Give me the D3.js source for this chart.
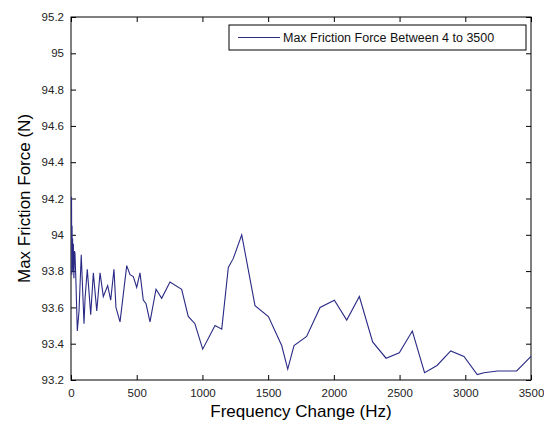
<!DOCTYPE html>
<html>
<head>
<meta charset="utf-8">
<script src="https://cdn.jsdelivr.net/npm/d3@7"></script>
<style>
  body { margin: 0; background: #fff; }
  svg { font-family: Arial, "Liberation Sans", sans-serif; }
</style>
</head>
<body>
<div id="chart"></div>
<script>
// frequency (Hz) and max friction force (N)
var freq = [4, 6, 8, 10, 12, 15, 18, 22, 26, 30, 38, 48, 61, 78, 99, 107, 124, 150, 170, 196,
  221, 246, 279, 302, 327, 342, 373, 424, 449, 474, 500, 525, 550, 571, 601, 647, 690, 753,
  842, 892, 943, 1002, 1096, 1147, 1197, 1235, 1299, 1400, 1502, 1603, 1649, 1697, 1793, 1895,
  2004, 2098, 2194, 2295, 2397, 2498, 2597, 2690, 2785, 2889, 2990, 3091, 3142, 3244, 3391, 3500];
var force = [94.21, 93.78, 94.05, 93.85, 93.98, 93.80, 93.95, 93.76, 93.91, 93.90, 93.73, 93.47, 93.58, 93.89, 93.51, 93.65, 93.81, 93.56, 93.79, 93.58,
  93.79, 93.66, 93.72, 93.64, 93.81, 93.60, 93.52, 93.83, 93.78, 93.77, 93.71, 93.79, 93.64, 93.62, 93.52, 93.70, 93.65, 93.74,
  93.70, 93.55, 93.51, 93.37, 93.50, 93.48, 93.82, 93.87, 94.00, 93.61, 93.55, 93.39, 93.26, 93.39, 93.44, 93.60,
  93.64, 93.53, 93.66, 93.41, 93.32, 93.35, 93.47, 93.24, 93.28, 93.36, 93.33, 93.23, 93.24, 93.25, 93.25, 93.33];
var xTicks = [0, 500, 1000, 1500, 2000, 2500, 3000, 3500];
var yTicks = [93.2, 93.4, 93.6, 93.8, 94, 94.2, 94.4, 94.6, 94.8, 95, 95.2];
var legendLabel = "Max Friction Force Between 4 to 3500";

var width = 544, height = 426;
var margin = { top: 17, left: 71, right: 13, bottom: 46 };
var w = width - margin.left - margin.right,
    h = height - margin.top - margin.bottom;

var svg = d3.select("#chart").append("svg")
  .attr("width", width)
  .attr("height", height);

var g = svg.append("g")
  .attr("transform", "translate(" + margin.left + "," + margin.top + ")");

var x = d3.scaleLinear().domain([0, 3500]).range([0, w]);
var y = d3.scaleLinear().domain([93.2, 95.2]).range([h, 0]);

// axes, ticks pointing inward like matlab
function styleAxis(sel) {
  sel.select(".domain").remove();
  sel.selectAll("line").attr("stroke", "#000");
  sel.selectAll("text").attr("fill", "#222").style("font-size", "11.5px");
}

g.append("g")
  .attr("transform", "translate(0," + h + ")")
  .call(d3.axisBottom(x).tickValues(xTicks).tickSize(-5).tickPadding(9).tickFormat(d3.format("d")))
  .call(styleAxis);

g.append("g")
  .call(d3.axisTop(x).tickValues(xTicks).tickSize(-5).tickFormat(""))
  .call(styleAxis);

g.append("g")
  .call(d3.axisLeft(y).tickValues(yTicks).tickSize(-5).tickPadding(7).tickFormat(function(d) { return d3.format("")(+d.toFixed(1)); }))
  .call(styleAxis);

g.append("g")
  .attr("transform", "translate(" + w + ",0)")
  .call(d3.axisRight(y).tickValues(yTicks).tickSize(-5).tickFormat(""))
  .call(styleAxis);

// the box
g.append("rect")
  .attr("width", w)
  .attr("height", h)
  .attr("fill", "none")
  .attr("stroke", "#000")
  .attr("stroke-width", 1);

var line = d3.line()
  .x(function(d, i) { return x(freq[i]); })
  .y(function(d) { return y(d); });

g.append("path")
  .datum(force)
  .attr("fill", "none")
  .attr("stroke", "#2a2a86")
  .attr("stroke-width", 1.1)
  .attr("d", line);

// legend
var lg = g.append("g").attr("transform", "translate(158,8)");
lg.append("rect")
  .attr("width", 297)
  .attr("height", 25)
  .attr("fill", "#fff")
  .attr("stroke", "#000");
lg.append("line")
  .attr("x1", 9).attr("x2", 51)
  .attr("y1", 12.5).attr("y2", 12.5)
  .attr("stroke", "#2a2a86")
  .attr("stroke-width", 1.1);
lg.append("text")
  .attr("x", 54)
  .attr("y", 17)
  .style("font-size", "12.5px")
  .attr("fill", "#111")
  .text(legendLabel);

// axis titles
svg.append("text")
  .attr("x", margin.left + w / 2)
  .attr("y", 417)
  .attr("text-anchor", "middle")
  .style("font-size", "17px")
  .text("Frequency Change (Hz)");

svg.append("text")
  .attr("transform", "translate(30," + (margin.top + h / 2) + ") rotate(-90)")
  .attr("text-anchor", "middle")
  .style("font-size", "17px")
  .text("Max Friction Force (N)");
</script>
</body>
</html>
